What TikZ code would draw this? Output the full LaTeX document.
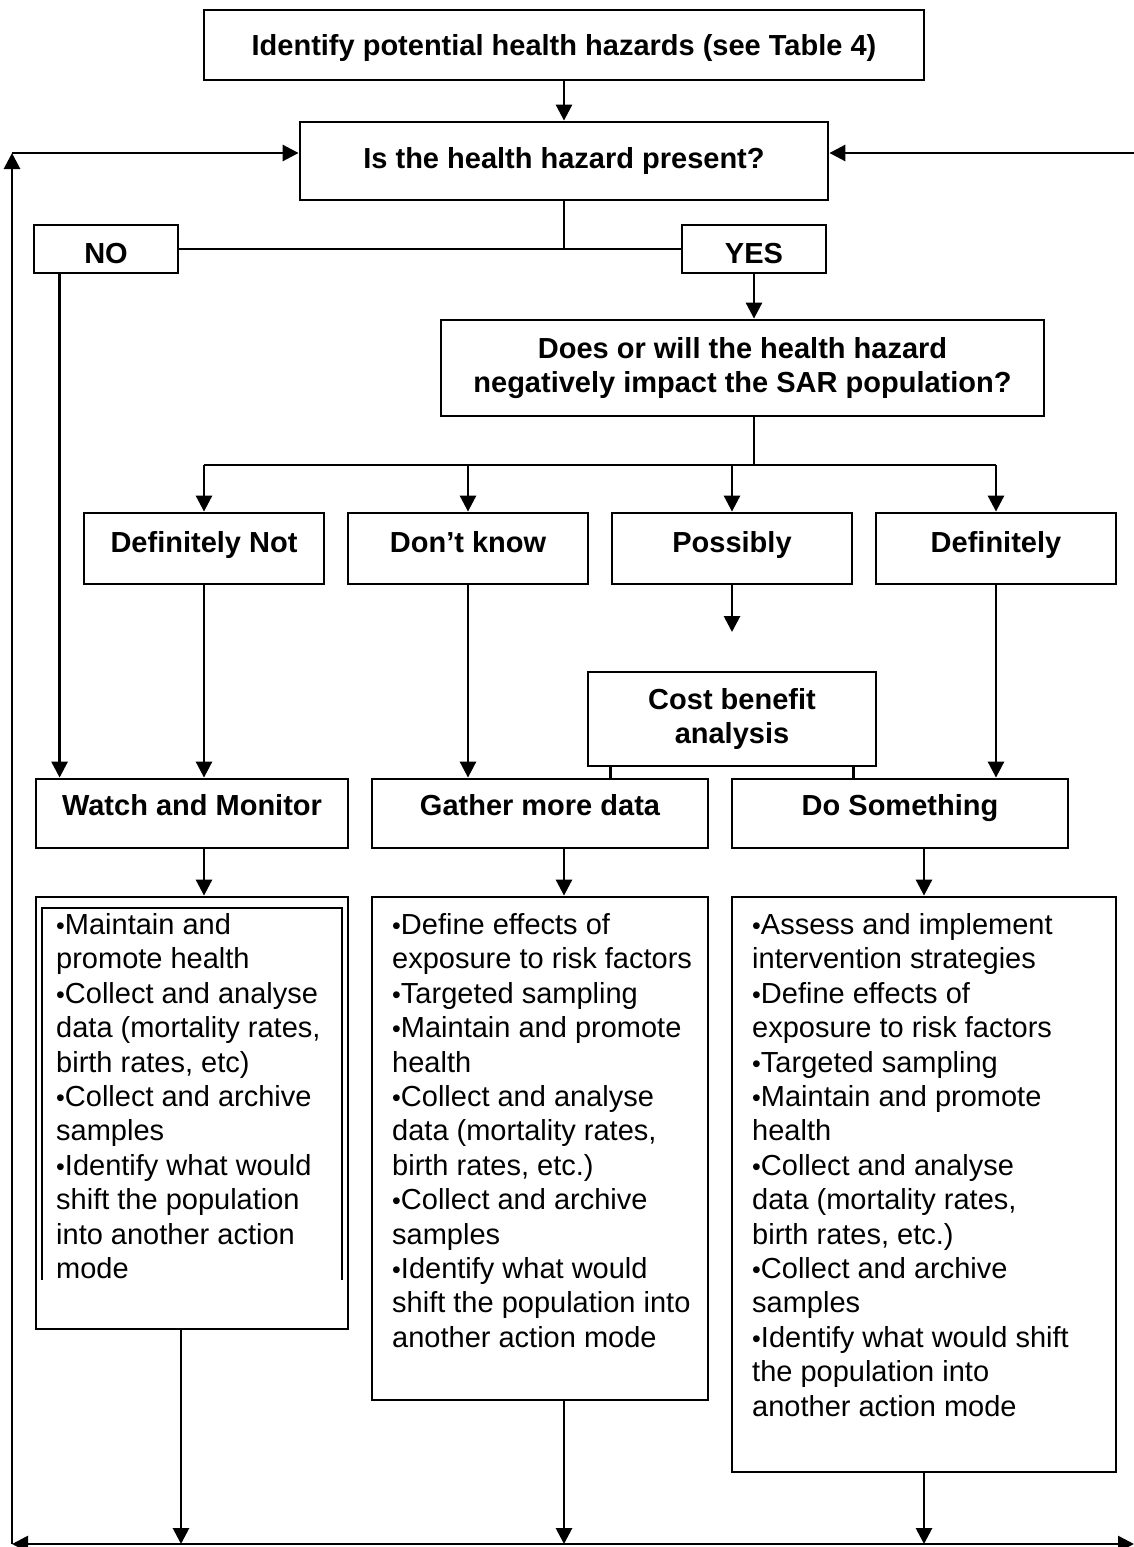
\documentclass[tikz,border=0pt]{standalone}
\usepackage{fontspec}
\setmainfont{Liberation Sans}
\usetikzlibrary{arrows.meta}
\newcommand\fsz{\fontsize{29}{34.4}\selectfont}
\newcommand\bul{{\fontsize{25}{25}\selectfont\char"2022}}
\newcommand\lline[1]{\hbox{#1}}
\begin{document}
\begin{tikzpicture}[x=1pt,y=-1pt,
  lw/.style={line width=2.8pt},
  box/.style={draw, lw, inner sep=0pt, font=\fsz\bfseries, align=center},
  arr/.style={lw, -{Triangle[length=16pt,width=16pt]}},
  ln/.style={lw},
  listtext/.style={anchor=base west, inner sep=0pt, font=\fsz}]
\useasboundingbox (0,0) rectangle (1134,1547);

% boxes
\node[box, minimum width=720pt, text height=45.4pt, text depth=24.6pt] (top) at (564,45) {Identify potential health hazards (see Table 4)};
\node[box, minimum width=528pt, minimum height=78pt] (q) at (564,161) {Is the health hazard present?};
\node[box, minimum width=144pt, text height=38.4pt, text depth=9.6pt] (no) at (106,249) {NO};
\node[box, minimum width=144pt, text height=38.4pt, text depth=9.6pt] (yes) at (754,249) {YES};
\node[box, minimum width=603pt, minimum height=96pt] (impact) at (742.5,368) {Does or will the health hazard\\negatively impact the SAR population?};

\node[box, minimum width=240pt, text height=39.4pt, text depth=31.6pt] (defnot) at (204,548.5) {Definitely Not};
\node[box, minimum width=240pt, text height=39.4pt, text depth=31.6pt] (dontknow) at (468,548.5) {Don’t know};
\node[box, minimum width=240pt, text height=39.4pt, text depth=31.6pt] (possibly) at (732,548.5) {Possibly};
\node[box, minimum width=240pt, text height=39.4pt, text depth=31.6pt] (definitely) at (996,548.5) {Definitely};

\node[box, minimum width=288pt, minimum height=94pt] (cost) at (732,719) {Cost benefit\\analysis};

\node[box, minimum width=312pt, text height=36.4pt, text depth=32.6pt] (watch) at (192,813.5) {Watch and Monitor};
\node[box, minimum width=336pt, text height=36.4pt, text depth=32.6pt] (gather) at (540,813.5) {Gather more data};
\node[box, minimum width=336pt, text height=36.4pt, text depth=32.6pt] (dosth) at (900,813.5) {Do Something};

\node[box, minimum width=312pt, minimum height=432pt] (wlist) at (192,1113) {};
\node[box, minimum width=336pt, minimum height=503pt] (glist) at (540,1148.5) {};
\node[box, minimum width=384pt, minimum height=575pt] (dlist) at (924,1184.5) {};

% inner frame of the first list box
\draw[line width=2.5pt] (42,1280) -- (42,908) -- (342,908) -- (342,1280);

% list texts
\node[listtext] (wtext) at (56,934.4) {\vtop{\baselineskip=34.4pt
  \lline{\bul Maintain and}
  \lline{promote health}
  \lline{\bul Collect and analyse}
  \lline{data (mortality rates,}
  \lline{birth rates, etc)}
  \lline{\bul Collect and archive}
  \lline{samples}
  \lline{\bul Identify what would}
  \lline{shift the population}
  \lline{into another action}
  \lline{mode}}};
\node[listtext] (gtext) at (392,934.4) {\vtop{\baselineskip=34.4pt
  \lline{\bul Define effects of}
  \lline{exposure to risk factors}
  \lline{\bul Targeted sampling}
  \lline{\bul Maintain and promote}
  \lline{health}
  \lline{\bul Collect and analyse}
  \lline{data (mortality rates,}
  \lline{birth rates, etc.)}
  \lline{\bul Collect and archive}
  \lline{samples}
  \lline{\bul Identify what would}
  \lline{shift the population into}
  \lline{another action mode}}};
\node[listtext] (dtext) at (752,934.4) {\vtop{\baselineskip=34.4pt
  \lline{\bul Assess and implement}
  \lline{intervention strategies}
  \lline{\bul Define effects of}
  \lline{exposure to risk factors}
  \lline{\bul Targeted sampling}
  \lline{\bul Maintain and promote}
  \lline{health}
  \lline{\bul Collect and analyse}
  \lline{data (mortality rates,}
  \lline{birth rates, etc.)}
  \lline{\bul Collect and archive}
  \lline{samples}
  \lline{\bul Identify what would shift}
  \lline{the population into}
  \lline{another action mode}}};

% coordinates
\coordinate (lb) at (12,1544);
\coordinate (lt) at (12,153);
\coordinate (rb) at (1134,1544);
\coordinate (rt) at (1134,153);
\coordinate (br) at (754,465);
\coordinate (pe) at (732,632);

% connectors
\draw[arr] (top) -- (q);
\draw[ln] (q.south) -- (q.south |- no.east);
\draw[ln] (no.east) -- (yes.west);
\draw[arr] (yes.south) -- (yes.south |- impact.north);
\draw[ln] (yes.south |- impact.south) -- (br);
\draw[ln] (defnot.north |- br) -- (definitely.north |- br);
\foreach \n in {defnot,dontknow,possibly,definitely}
  \draw[arr] (\n.north |- br) -- (\n.north);
\draw[arr] (possibly.south) -- (pe);
\draw[ln] ([xshift=24pt]cost.south west) -- ([xshift=24pt]cost.south west |- gather.north);
\draw[ln] ([xshift=-24pt]cost.south east) -- ([xshift=-24pt]cost.south east |- dosth.north);

\draw[arr] ([xshift=27pt]no.south west) -- ([xshift=27pt]no.south west |- watch.north);
\draw[arr] (defnot.south) -- (defnot.south |- watch.north);
\draw[arr] (dontknow.south) -- (dontknow.south |- gather.north);
\draw[arr] (definitely.south) -- (definitely.south |- dosth.north);

\draw[arr] (defnot.south |- watch.south) -- (defnot.south |- wlist.north);
\draw[arr] ([xshift=24pt]gather.south) -- ([xshift=24pt]gather.south |- glist.north);
\draw[arr] (dlist.north |- dosth.south) -- (dlist.north);

\draw[arr] ([xshift=-11pt]wlist.south) -- ([xshift=-11pt]wlist.south |- lb);
\draw[arr] ([xshift=24pt]glist.south) -- ([xshift=24pt]glist.south |- lb);
\draw[arr] (dlist.south) -- (dlist.south |- lb);

% feedback loop
\draw[lw, {Triangle[length=16pt,width=16pt]}-{Triangle[length=16pt,width=16pt]}] (lb) -- (rb);
\draw[arr] (lb) -- (lt);
\draw[arr] (lt) -- (lt -| q.west);
\draw[arr] (rt) -- (rt -| q.east);
\end{tikzpicture}
\end{document}
